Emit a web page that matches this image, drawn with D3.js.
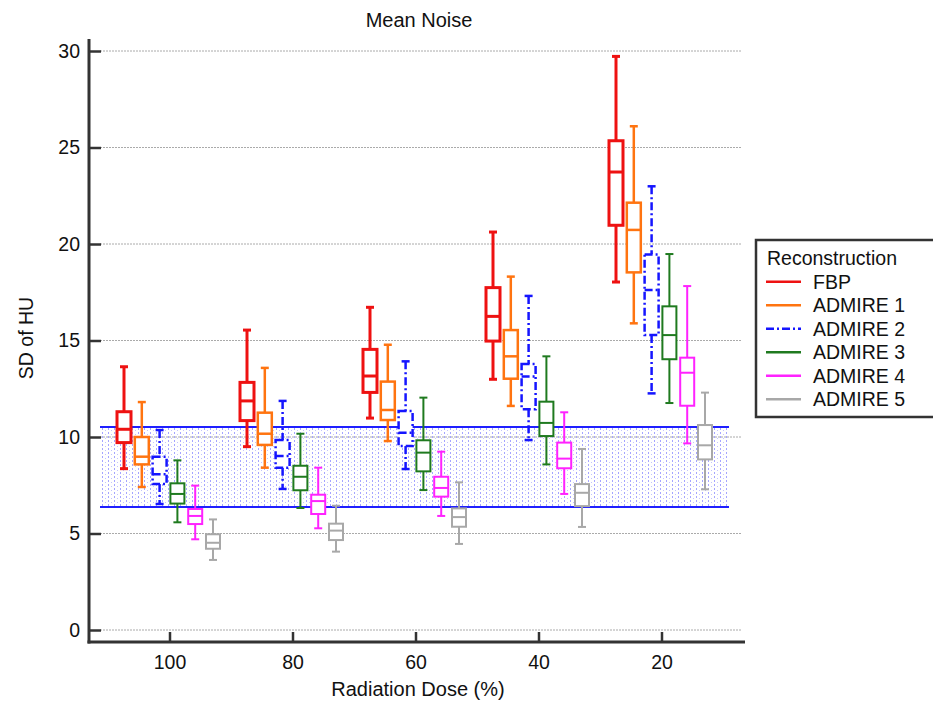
<!DOCTYPE html>
<html>
<head>
<meta charset="utf-8">
<script src="https://cdn.jsdelivr.net/npm/d3@7"></script>
<style>
  body { margin: 0; background: #fff; }
  text { font-family: "Liberation Sans", Arial, sans-serif; fill: #111; }
</style>
</head>
<body>
<svg id="chart" width="933" height="702"></svg>
<script>
// Mean noise box plots
// each entry: [min, q1, median, q3, max], one per dose group
var doses = ["100", "80", "60", "40", "20"];
var yTicks = [0, 5, 10, 15, 20, 25, 30];
var seriesNames = ["FBP", "ADMIRE 1", "ADMIRE 2", "ADMIRE 3", "ADMIRE 4", "ADMIRE 5"];

var fbp = [
  [8.36, 9.71, 10.40, 11.31, 13.64],
  [9.50, 10.85, 11.87, 12.83, 15.54],
  [10.98, 12.31, 13.16, 14.54, 16.72],
  [12.99, 14.97, 16.25, 17.74, 20.62],
  [18.03, 20.97, 23.73, 25.35, 29.72]
];
var admire1 = [
  [7.41, 8.58, 8.98, 10.00, 11.81],
  [8.41, 9.59, 10.17, 11.26, 13.58],
  [9.79, 10.88, 11.40, 12.87, 14.78],
  [11.61, 13.02, 14.18, 15.54, 18.31],
  [15.89, 18.53, 20.73, 22.14, 26.10]
];
var admire2 = [
  [6.53, 7.56, 8.07, 8.98, 10.36],
  [7.31, 8.41, 9.02, 9.84, 11.87],
  [8.34, 9.53, 10.22, 11.35, 13.92],
  [9.84, 11.44, 13.13, 13.78, 17.31],
  [12.26, 15.28, 17.62, 19.46, 22.99]
];
var admire3 = [
  [5.58, 6.55, 7.05, 7.60, 8.79],
  [6.32, 7.24, 7.94, 8.51, 10.17],
  [7.25, 8.22, 9.19, 9.83, 12.04],
  [8.58, 10.05, 10.73, 11.83, 14.18],
  [11.76, 14.03, 15.28, 16.77, 19.48]
];
var admire4 = [
  [4.70, 5.49, 5.91, 6.27, 7.48],
  [5.27, 6.01, 6.68, 7.01, 8.41],
  [5.91, 6.91, 7.36, 7.94, 9.24],
  [7.05, 8.38, 8.88, 9.71, 11.28],
  [9.67, 11.62, 13.33, 14.11, 17.82]
];
var admire5 = [
  [3.63, 4.21, 4.52, 4.96, 5.73],
  [4.06, 4.66, 5.15, 5.51, 6.44],
  [4.46, 5.35, 5.85, 6.30, 7.65],
  [5.34, 6.42, 7.11, 7.56, 9.38],
  [7.29, 8.84, 9.57, 10.62, 12.30]
];
// reference band (lower, upper)
var refBand = [6.37, 10.52];

var allSeries = [fbp, admire1, admire2, admire3, admire4, admire5];
var colors = ["#ee1111", "#ff7410", "#1515ff", "#1f7a1f", "#ff22ff", "#a8a8a8"];
var widths = [3, 2.5, 2.5, 2, 2, 2];
var dashes = [null, null, "8,3,2,3", null, null, null];

var svg = d3.select("#chart");
var axisColor = "#333";

var x = d3.scaleBand().domain(doses).range([108.5, 723.5]);
var sub = d3.scalePoint().domain(seriesNames).range([-46, 43]);
var y = d3.scaleLinear().domain([0, 30]).range([630, 51]);

// pattern for the shaded band
var defs = svg.append("defs");
var pat = defs.append("pattern")
  .attr("id", "dots")
  .attr("patternUnits", "userSpaceOnUse")
  .attr("width", 6).attr("height", 4);
pat.append("rect").attr("x", 0).attr("y", 0).attr("width", 1).attr("height", 2).attr("fill", "#5a5aff").attr("opacity", 0.55);
pat.append("rect").attr("x", 3).attr("y", 2).attr("width", 1).attr("height", 1).attr("fill", "#7a7aff").attr("opacity", 0.45);

// gridlines
svg.append("g").selectAll("line")
  .data(yTicks)
  .enter().append("line")
  .attr("x1", 100).attr("x2", 742)
  .attr("y1", function(d) { return y(d); })
  .attr("y2", function(d) { return y(d); })
  .attr("stroke", "#aaa")
  .attr("stroke-width", 1)
  .attr("stroke-dasharray", "2,1");

// band
svg.append("rect")
  .attr("x", 100).attr("width", 629)
  .attr("y", y(refBand[1]))
  .attr("height", y(refBand[0]) - y(refBand[1]))
  .attr("fill", "url(#dots)");
svg.append("g").selectAll("line")
  .data(refBand)
  .enter().append("line")
  .attr("x1", 100).attr("x2", 729)
  .attr("y1", function(d) { return y(d); })
  .attr("y2", function(d) { return y(d); })
  .attr("stroke", "#1f1fff")
  .attr("stroke-width", 2);

// boxes
allSeries.forEach(function(series, si) {
  var name = seriesNames[si];
  var g = svg.append("g")
    .attr("stroke", colors[si])
    .attr("stroke-width", widths[si])
    .attr("fill", "none");
  if (dashes[si]) g.attr("stroke-dasharray", dashes[si]);

  series.forEach(function(v, di) {
    var cx = x(doses[di]) + x.bandwidth() / 2 + sub(name);
    var bw = 14, cap = 8;
    // whiskers
    g.append("line").attr("x1", cx).attr("x2", cx).attr("y1", y(v[4])).attr("y2", y(v[3]));
    g.append("line").attr("x1", cx).attr("x2", cx).attr("y1", y(v[1])).attr("y2", y(v[0]));
    g.append("line").attr("x1", cx - cap / 2).attr("x2", cx + cap / 2).attr("y1", y(v[4])).attr("y2", y(v[4]));
    g.append("line").attr("x1", cx - cap / 2).attr("x2", cx + cap / 2).attr("y1", y(v[0])).attr("y2", y(v[0]));
    g.append("rect")
      .attr("x", cx - bw / 2).attr("width", bw)
      .attr("y", y(v[3])).attr("height", y(v[1]) - y(v[3]))
      .attr("fill", "#fff");
    g.append("line").attr("x1", cx - bw / 2).attr("x2", cx + bw / 2).attr("y1", y(v[2])).attr("y2", y(v[2]));
  });
});

// axes
var yAxis = d3.axisLeft(y).tickValues(yTicks).tickSize(-12).tickPadding(9);
var gy = svg.append("g").attr("transform", "translate(89,0)").call(yAxis);
gy.select(".domain").remove();
gy.selectAll(".tick line").attr("stroke", axisColor).attr("stroke-width", 2.5);
gy.selectAll(".tick text").attr("font-size", 19.5).attr("fill", "#111")
  .style("font-family", "Liberation Sans, Arial, sans-serif");

var xAxis = d3.axisBottom(x).tickSize(-10).tickPadding(13);
var gx = svg.append("g").attr("transform", "translate(0,642)").call(xAxis);
gx.select(".domain").remove();
gx.selectAll(".tick line").attr("stroke", axisColor).attr("stroke-width", 2.5);
gx.selectAll(".tick text").attr("font-size", 19.5).attr("fill", "#111")
  .style("font-family", "Liberation Sans, Arial, sans-serif");

svg.append("line").attr("x1", 89).attr("x2", 89).attr("y1", 39).attr("y2", 643.5)
  .attr("stroke", axisColor).attr("stroke-width", 3);
svg.append("line").attr("x1", 87.5).attr("x2", 745).attr("y1", 642).attr("y2", 642)
  .attr("stroke", axisColor).attr("stroke-width", 3);

// titles
svg.append("text").attr("x", 419).attr("y", 27).attr("text-anchor", "middle")
  .attr("font-size", 20).text("Mean Noise");
svg.append("text").attr("x", 418).attr("y", 696).attr("text-anchor", "middle")
  .attr("font-size", 20).text("Radiation Dose (%)");
svg.append("text").attr("transform", "translate(33,338) rotate(-90)")
  .attr("text-anchor", "middle").attr("font-size", 19.5).text("SD of HU");

// legend
var lg = svg.append("g");
lg.append("rect").attr("x", 756).attr("y", 240).attr("width", 190).attr("height", 177)
  .attr("fill", "#fff").attr("stroke", axisColor).attr("stroke-width", 2.5);
lg.append("text").attr("x", 767).attr("y", 265).attr("font-size", 19.5).text("Reconstruction");
seriesNames.forEach(function(name, i) {
  var ly = 281.7 + i * 23.5;
  lg.append("line").attr("x1", 766).attr("x2", 801).attr("y1", ly).attr("y2", ly)
    .attr("stroke", colors[i]).attr("stroke-width", 2.5)
    .attr("stroke-dasharray", dashes[i]);
  lg.append("text").attr("x", 813).attr("y", ly + 7).attr("font-size", 19.5).text(name);
});
</script>
</body>
</html>
